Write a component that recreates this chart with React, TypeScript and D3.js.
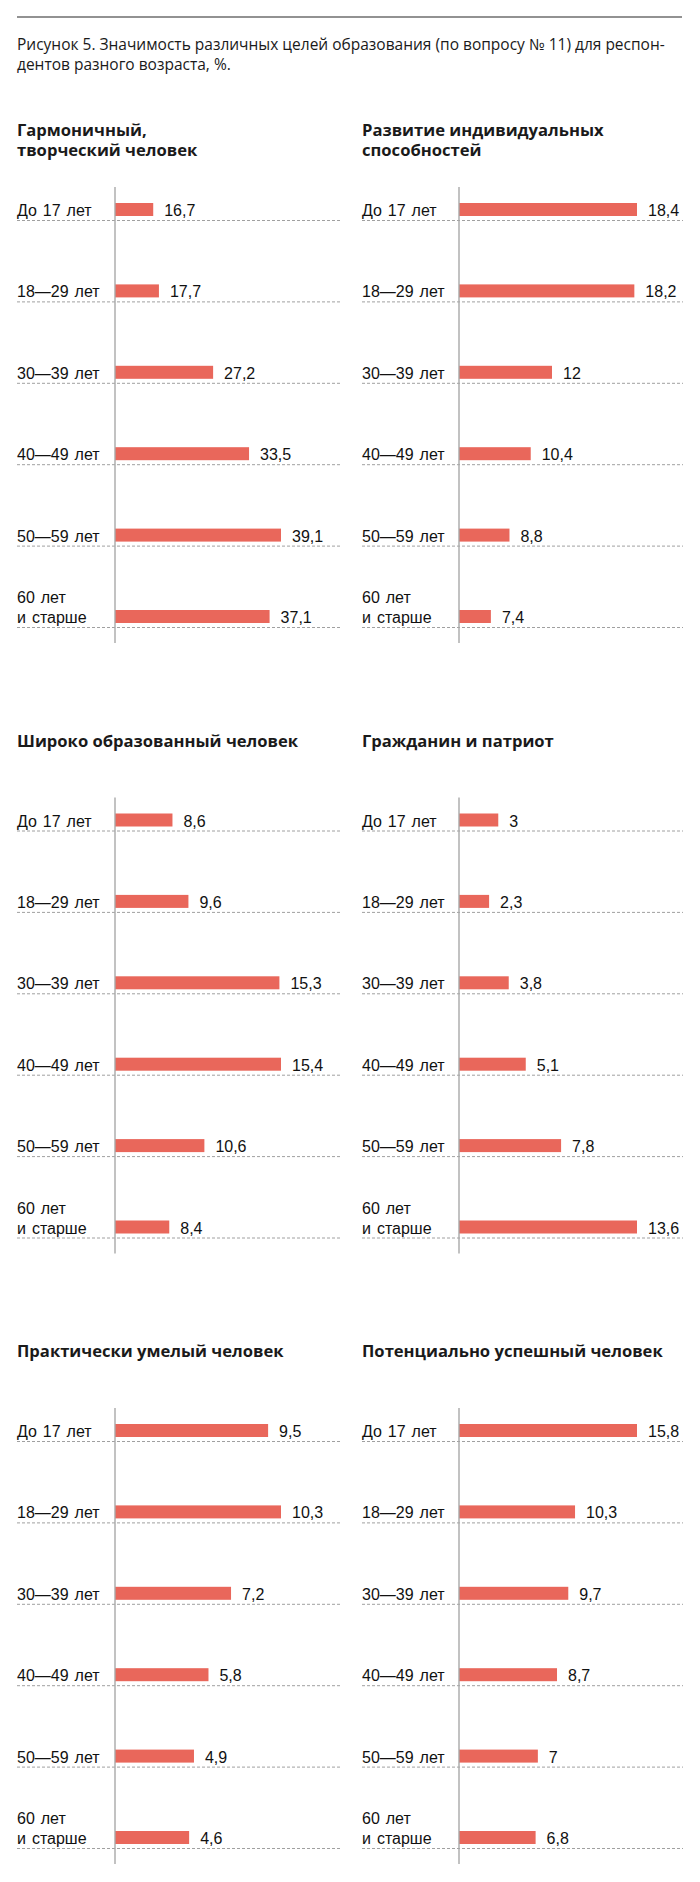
import React from "react";
import * as d3 from "d3";

// age groups (rows), same for every panel
const ages = ["До 17 лет", "18—29 лет", "30—39 лет", "40—49 лет", "50—59 лет", "60 лет\nи старше"];

// values, % of respondents
const harmonious = [16.7, 17.7, 27.2, 33.5, 39.1, 37.1];
const abilities = [18.4, 18.2, 12, 10.4, 8.8, 7.4];
const educated = [8.6, 9.6, 15.3, 15.4, 10.6, 8.4];
const citizen = [3, 2.3, 3.8, 5.1, 7.8, 13.6];
const practical = [9.5, 10.3, 7.2, 5.8, 4.9, 4.6];
const successful = [15.8, 10.3, 9.7, 8.7, 7, 6.8];

const panelTitles = [
  "Гармоничный,\nтворческий человек",
  "Развитие индивидуальных\nспособностей",
  "Широко образованный человек",
  "Гражданин и патриот",
  "Практически умелый человек",
  "Потенциально успешный человек",
];
const panelValues = [harmonious, abilities, educated, citizen, practical, successful];
// the original scales do not all start at zero
const domainStart = [10, 5, 5, 0, 0, 0];

const caption = [
  "Рисунок 5. Значимость различных целей образования (по вопросу № 11) для респон-",
  "дентов разного возраста, %.",
];

const W = 700;
const H = 1882;
const BAR = "#e9675b";
const labelFont = "'Liberation Sans', Arial, sans-serif";
const titleFont = "'Open Sans', 'Noto Sans', sans-serif";

const fmt = (v: number) => String(v).replace(".", ",");

function Panel({ idx }: { idx: number }) {
  const col = idx % 2;
  const row = Math.floor(idx / 2);
  const left = col === 0 ? 17 : 362;
  const axisX = col === 0 ? 115 : 459;
  const right = col === 0 ? 340 : 683;
  const barMax = col === 0 ? 166 : 178;
  const firstLine = 220 + row * 610.5;
  const values = panelValues[idx];

  const y = d3.scalePoint<string>().domain(ages).range([firstLine, firstLine + 5 * 81.4]);
  const x = d3
    .scaleLinear()
    .domain([domainStart[idx], d3.max(values) as number])
    .range([0, barMax]);

  return (
    <g>
      {panelTitles[idx].split("\n").map((t, i) => (
        <text
          key={i}
          x={left}
          y={firstLine - 84 + i * 20}
          fontFamily={titleFont}
          fontWeight={700}
          fontSize={16.6}
          fill="#1a1a1a"
        >
          {t}
        </text>
      ))}
      {ages.map((a, i) => {
        const yy = y(a) as number;
        const lines = a.split("\n");
        return (
          <g key={a}>
            <line x1={left} x2={right} y1={yy + 0.5} y2={yy + 0.5} stroke="#a0a0a0" strokeWidth={1} strokeDasharray="3,2" />
            {lines.map((l, j) => (
              <text
                key={j}
                x={left}
                y={yy - 4 - (lines.length - 1 - j) * 20}
                fontFamily={labelFont}
                fontSize={16}
                wordSpacing={1.5}
                fill="#111"
              >
                {l}
              </text>
            ))}
            <rect x={axisX} y={yy - 17} width={x(values[i])} height={13} fill={BAR} />
            <text x={axisX + x(values[i]) + 11} y={yy - 4} fontFamily={labelFont} fontSize={16} fill="#111">
              {fmt(values[i])}
            </text>
          </g>
        );
      })}
      <line x1={axisX} x2={axisX} y1={firstLine - 33} y2={firstLine + 5 * 81.4 + 16} stroke="#a8a8a8" strokeWidth={1.4} />
    </g>
  );
}

export default function App() {
  return (
    <svg width={W} height={H} style={{ position: "absolute", left: 0, top: 0, background: "#fff" }}>
      <line x1={17} x2={682} y1={17} y2={17} stroke="#6e6e6e" strokeWidth={1.6} />
      {caption.map((c, i) => (
        <text key={i} x={17} y={50 + i * 20} fontFamily={titleFont} fontSize={15.5} fill="#1a1a1a">
          {c}
        </text>
      ))}
      {panelTitles.map((_, i) => (
        <Panel key={i} idx={i} />
      ))}
    </svg>
  );
}
